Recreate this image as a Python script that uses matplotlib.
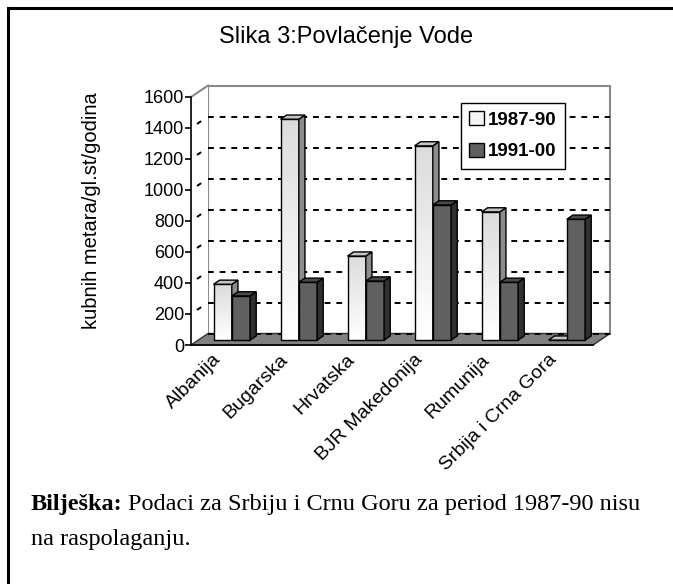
import numpy as np
import matplotlib.pyplot as plt
from matplotlib.patches import Polygon, Patch
from matplotlib.lines import Line2D
from matplotlib.transforms import ScaledTranslation

countries = ['Albanija', 'Bugarska', 'Hrvatska', 'BJR Makedonija', 'Rumunija', 'Srbija i Crna Gora']
s1987 = [360, 1425, 542, 1253, 827, 0]
s1991 = [285, 373, 381, 872, 373, 780]
series_names = ['1987-90', '1991-00']
yticks = [0, 200, 400, 600, 800, 1000, 1200, 1400, 1600]

W, H = 673, 584
fig = plt.figure(figsize=(W / 100, H / 100), dpi=100)

def fx(px):
    return px / W

def fy(py):
    return 1 - py / H

ax = fig.add_axes([fx(191), fy(345), 402 / W, 248 / H])
ax.set_xlim(-0.5, 5.5)
ax.set_ylim(0, 1600)

# depth of the 3d box, in data units
DX, DY = 0.254, 74
n = len(countries)
x_lo, x_hi = -0.5, n - 0.5

# back wall and side wall
ax.add_patch(Polygon([(x_lo + DX, DY), (x_hi + DX, DY), (x_hi + DX, 1600 + DY), (x_lo + DX, 1600 + DY)],
                     closed=True, fc='white', ec='#8a8a8a', lw=1.5, clip_on=False, zorder=1))
ax.add_patch(Polygon([(x_lo, 0), (x_lo + DX, DY), (x_lo + DX, 1600 + DY), (x_lo, 1600)],
                     closed=True, fc='white', ec='none', clip_on=False, zorder=1))
ax.plot([x_lo, x_lo + DX], [1600, 1600 + DY], color='#8a8a8a', lw=1.5, clip_on=False, zorder=2)

# gridlines
for v in yticks[1:-1]:
    ax.plot([x_lo + DX, x_hi + DX], [v + DY, v + DY], color='black', lw=1.4,
            dashes=(3, 3), clip_on=False, zorder=2)
    ax.plot([x_lo + DX * 0.4, x_lo + DX * 0.55], [v + DY * 0.4, v + DY * 0.55], color='black',
            lw=1.4, clip_on=False, zorder=2)

# floor
ax.add_patch(Polygon([(x_lo, 0), (x_hi, 0), (x_hi + DX, DY), (x_lo + DX, DY)],
                     closed=True, fc='#808080', ec='#303030', lw=1, clip_on=False, zorder=3))
ax.plot([x_lo + DX, x_hi + DX], [DY, DY], color='black', lw=1.4, dashes=(3, 3),
        clip_on=False, zorder=3)

# bars
bw = 0.273
d0 = 0.43
bd = 0.36
grad = np.linspace(0.86, 1.0, 64).reshape(-1, 1)

def bar3d(x0, v, front, top, side, gradient=False):
    b = d0 * DY
    ox, oy = bd * DX, bd * DY
    if gradient:
        ax.imshow(grad, cmap='gray', vmin=0, vmax=1, origin='upper',
                  extent=[x0, x0 + bw, b, b + v], aspect='auto', zorder=4, clip_on=False)
    ax.add_patch(Polygon([(x0, b), (x0 + bw, b), (x0 + bw, b + v), (x0, b + v)], closed=True,
                         fc='none' if gradient else front, ec='black', lw=1, zorder=4, clip_on=False))
    ax.add_patch(Polygon([(x0 + bw, b), (x0 + bw + ox, b + oy), (x0 + bw + ox, b + v + oy), (x0 + bw, b + v)],
                         closed=True, fc=side, ec='black', lw=1, zorder=4, clip_on=False))
    ax.add_patch(Polygon([(x0, b + v), (x0 + bw, b + v), (x0 + bw + ox, b + v + oy), (x0 + ox, b + v + oy)],
                         closed=True, fc=top, ec='black', lw=1, zorder=4, clip_on=False))

for i in range(n):
    cx = i + d0 * DX
    bar3d(cx - bw, s1987[i], 'white', '#c4c4c4', '#8c8c8c', gradient=True)
    bar3d(cx, s1991[i], '#606060', '#4a4a4a', '#303030')

ax.set_xlim(-0.5, 5.5)
ax.set_ylim(0, 1600)

# axes
for s in ['top', 'right', 'bottom']:
    ax.spines[s].set_visible(False)
ax.spines['left'].set_linewidth(1.2)
ax.spines['left'].set_zorder(5)
ax.set_yticks(yticks)
ax.tick_params(axis='y', length=4, width=1.2, pad=1, labelsize=13)
for lab in ax.get_yticklabels():
    lab.set_fontfamily('Liberation Sans')
ax.set_xticks([])
off = ax.get_xaxis_transform() + ScaledTranslation(-12 / 100, -6 / 100, fig.dpi_scale_trans)
for i, name in enumerate(countries):
    ax.text(i, 0, name, transform=off, rotation=45, ha='right', va='top',
            rotation_mode='anchor', fontsize=14, family='Liberation Sans')
ax.plot([x_lo, x_hi], [0, 0], color='black', lw=1.2, clip_on=False, zorder=5)

handles = [Patch(fc='#f4f4f4', ec='black', lw=1), Patch(fc='#606060', ec='black', lw=1)]
leg = ax.legend(handles, series_names, loc='upper left', bbox_to_anchor=(fx(461), fy(103)),
                bbox_transform=fig.transFigure, frameon=True, fancybox=False, edgecolor='black',
                framealpha=1, handlelength=0.75, handleheight=0.75, handletextpad=0.25,
                labelspacing=0.75, borderpad=0.45, borderaxespad=0,
                prop={'family': 'Liberation Sans', 'weight': 'bold', 'size': 13.5})
leg.get_frame().set_linewidth(1)

fig.text(fx(346), fy(43), 'Slika 3:Povlačenje Vode', ha='center', va='baseline',
         fontsize=17, family='Liberation Sans')
fig.text(fx(92), fy(211), 'kubnih metara/gl.st/godina', ha='center', va='center', rotation=90,
         fontsize=14.5, family='Liberation Sans')

# note
r = fig.canvas.get_renderer()
t1 = fig.text(fx(31), fy(510), 'Bilješka:', ha='left', va='baseline', fontsize=17.5,
              family='Liberation Serif', weight='bold')
bb = t1.get_window_extent(r)
fig.text(bb.x1 / W + fx(5), fy(510), 'Podaci za Srbiju i Crnu Goru za period 1987-90 nisu',
         ha='left', va='baseline', fontsize=17.5, family='Liberation Serif')
fig.text(fx(31), fy(545), 'na raspolaganju.', ha='left', va='baseline', fontsize=17.5,
         family='Liberation Serif')

# frame
fig.add_artist(Line2D([fx(8), fx(8)], [fy(8), 0], color='black', lw=2.2, transform=fig.transFigure))
fig.add_artist(Line2D([fx(8), 1], [fy(8), fy(8)], color='black', lw=2.2, transform=fig.transFigure))

fig.savefig('out.png', dpi=100)
